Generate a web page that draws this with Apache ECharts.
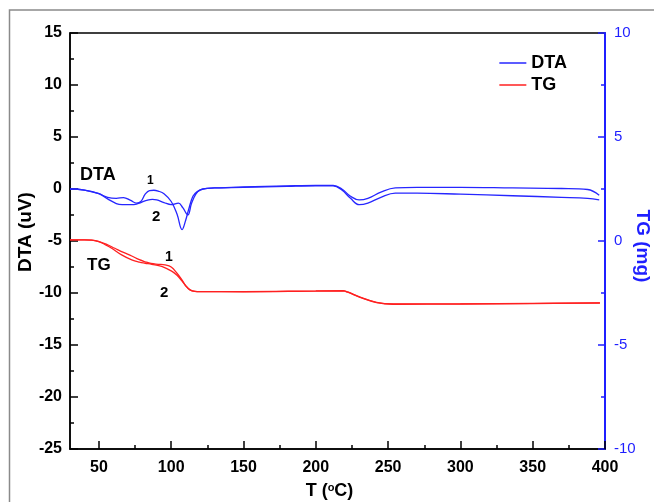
<!DOCTYPE html>
<html>
<head>
<meta charset="utf-8">
<script src="https://cdn.jsdelivr.net/npm/echarts@6/dist/echarts.min.js"></script>
<style>
  html, body { margin: 0; padding: 0; background: #fff; }
  #chart { width: 654px; height: 502px; }
</style>
</head>
<body>
<div id="chart"></div>
<script>
// x ticks
var xMajor = [50, 100, 150, 200, 250, 300, 350, 400];
var xMinor = [75, 125, 175, 225, 275, 325, 375];

// DTA (uV), [T, value]
var dta1 = [[30,0],[40,-0.1],[50,-0.45],[56,-0.8],[62,-0.9],[67,-0.82],[72,-1.1],[76,-1.35],[79,-1.2],[82,-0.5],[85,-0.15],[88,-0.12],[91,-0.2],[95,-0.45],[100,-1.2],[104,-2.4],[107.5,-3.9],[110,-3.0],[112,-2.0],[115,-0.7],[118,-0.25],[122,0.0],[130,0.1],[150,0.2],[180,0.3],[200,0.35],[212,0.35],[218,0.0],[224,-0.7],[230,-1.05],[236,-0.9],[245,-0.3],[255,0.1],[270,0.15],[300,0.15],[336,0.1],[370,0.05],[388,-0.05],[396,-0.6]];
var dta2 = [[30,0],[40,-0.1],[50,-0.45],[56,-0.95],[62,-1.4],[66,-1.5],[72,-1.5],[76,-1.45],[79,-1.3],[83,-1.1],[87,-1.0],[90,-1.05],[95,-1.3],[100,-1.5],[105,-1.35],[108,-1.8],[111.5,-2.5],[114,-1.4],[117,-0.5],[120,-0.1],[125,0.05],[130,0.1],[150,0.15],[180,0.25],[200,0.3],[212,0.3],[218,-0.1],[224,-0.9],[230,-1.5],[236,-1.35],[245,-0.8],[255,-0.4],[270,-0.4],[300,-0.5],[336,-0.65],[370,-0.8],[388,-0.9],[396,-1.05]];

// TG (mg), [T, value]
var tg1 = [[30,0.05],[40,0.05],[45,0.04],[50,-0.03],[55,-0.15],[61,-0.35],[67,-0.55],[72.7,-0.72],[78,-0.9],[82,-1.0],[86,-1.08],[91,-1.12],[95.7,-1.15],[100,-1.25],[104,-1.55],[107.2,-1.85],[110,-2.15],[113,-2.35],[116.4,-2.42],[120,-2.43],[150,-2.43],[200,-2.4],[218.8,-2.39],[222,-2.45],[230.6,-2.7],[242,-2.95],[253.6,-3.03],[300,-3.02],[350,-3.0],[396.5,-2.97]];
var tg2 = [[30,0.05],[40,0.05],[45,0.04],[50,-0.03],[55,-0.2],[58.8,-0.35],[65.7,-0.67],[72.7,-0.91],[78,-1.02],[82,-1.07],[86.5,-1.12],[93.4,-1.22],[100.3,-1.45],[104,-1.65],[107.2,-1.9],[110,-2.15],[113,-2.35],[116.4,-2.42],[120,-2.43],[150,-2.44],[200,-2.41],[218.8,-2.4],[222,-2.46],[230.6,-2.71],[242,-2.96],[253.6,-3.04],[300,-3.03],[350,-3.01],[396.5,-2.98]];

var FONT = 'Arial, "Liberation Sans", sans-serif';
var BLUE = '#2626ff';
var RED = '#ff2020';
var AXIS_BLUE = '#1f1fff';

var chart = echarts.init(document.getElementById('chart'));

var option = {
    animation: false,
    textStyle: { fontFamily: FONT },
    grid: { left: 70, top: 33, right: 49, bottom: 53, show: true, borderColor: '#000', borderWidth: 1.5, containLabel: false, outerBoundsMode: 'none' },
    legend: {
        top: 49, right: 82, orient: 'vertical', itemWidth: 27, itemHeight: 1.5, itemGap: 4,
        icon: 'rect',
        textStyle: { fontFamily: FONT, fontSize: 18, fontWeight: 'bold', color: '#000' },
        data: ['DTA', 'TG']
    },
    xAxis: [{
        type: 'value', min: 30, max: 400, position: 'bottom',
        name: '{a|T (}{s|o}{a|C)}', nameLocation: 'middle', nameGap: 33, nameMoveOverlap: false,
        nameTextStyle: { padding: [0, 16, 0, 0], rich: {
            a: { fontFamily: FONT, fontSize: 18, fontWeight: 'bold', color: '#000' },
            s: { fontFamily: FONT, fontSize: 11, fontWeight: 'bold', color: '#000', verticalAlign: 'top', padding: [0, 0, 8, 0] }
        } },
        splitLine: { show: false },
        axisLine: { onZero: false, lineStyle: { color: '#000', width: 1.5 } },
        axisTick: { inside: true, length: 8, customValues: xMajor, lineStyle: { color: '#000', width: 1.5 } },
        axisLabel: { customValues: xMajor, margin: 11, fontSize: 16, fontWeight: 'bold', color: '#000', fontFamily: FONT }
    }, {
        type: 'value', min: 30, max: 400, position: 'bottom',
        splitLine: { show: false },
        axisLine: { show: false, onZero: false },
        axisTick: { inside: true, length: 4, customValues: xMinor, lineStyle: { color: '#000', width: 1.5 } },
        axisLabel: { show: false }
    }],
    yAxis: [{
        type: 'value', min: -25, max: 15, interval: 5, position: 'left',
        name: 'DTA (uV)', nameLocation: 'middle', nameGap: 35, nameMoveOverlap: false,
        nameTextStyle: { fontSize: 19, fontWeight: 'bold', color: '#000', fontFamily: FONT, padding: [0, 0, 0, 18] },
        splitLine: { show: false },
        axisLine: { show: true, onZero: false, lineStyle: { color: '#000', width: 1.5 } },
        axisTick: { show: true, inside: true, length: 8, lineStyle: { color: '#000', width: 1.5 } },
        minorTick: { show: true, splitNumber: 2, length: 4, lineStyle: { color: '#000', width: 1.5 } },
        axisLabel: { margin: 8, fontSize: 16, fontWeight: 'bold', color: '#000', fontFamily: FONT }
    }, {
        type: 'value', min: -10, max: 10, interval: 5, position: 'right',
        name: 'TG (mg)', nameLocation: 'middle', nameGap: 28, nameRotate: -90, nameMoveOverlap: false,
        nameTextStyle: { fontSize: 19, fontWeight: 'bold', color: AXIS_BLUE, fontFamily: FONT, padding: [0, 0, 0, 10] },
        splitLine: { show: false },
        axisLine: { show: true, onZero: false, lineStyle: { color: AXIS_BLUE, width: 2 } },
        axisTick: { show: true, inside: true, length: 7, lineStyle: { color: AXIS_BLUE, width: 1.5 } },
        minorTick: { show: true, splitNumber: 2, length: 4, lineStyle: { color: AXIS_BLUE, width: 1.5 } },
        axisLabel: { margin: 9, fontSize: 15, color: AXIS_BLUE, fontFamily: FONT }
    }],
    series: [
        { name: 'DTA', type: 'line', xAxisIndex: 0, yAxisIndex: 0, data: dta1, symbol: 'none', smooth: 0.4, lineStyle: { color: BLUE, width: 1.3 }, itemStyle: { color: BLUE } },
        { name: 'DTA', type: 'line', xAxisIndex: 0, yAxisIndex: 0, data: dta2, symbol: 'none', smooth: 0.4, lineStyle: { color: BLUE, width: 1.3 }, itemStyle: { color: BLUE } },
        { name: 'TG', type: 'line', xAxisIndex: 0, yAxisIndex: 1, data: tg1, symbol: 'none', smooth: 0.4, lineStyle: { color: RED, width: 1.3 }, itemStyle: { color: RED } },
        { name: 'TG', type: 'line', xAxisIndex: 0, yAxisIndex: 1, data: tg2, symbol: 'none', smooth: 0.4, lineStyle: { color: RED, width: 1.3 }, itemStyle: { color: RED } }
    ],
    graphic: [
        { type: 'rect', silent: true, shape: { x: 9.5, y: 10, width: 700, height: 600 }, style: { fill: 'none', stroke: '#8a8a8a', lineWidth: 1.5 } },
        { type: 'text', x: 80, y: 166, style: { text: 'DTA', fontFamily: FONT, fontSize: 18, fontWeight: 'bold', fill: '#000' } },
        { type: 'text', x: 147, y: 175, style: { text: '1', fontFamily: FONT, fontSize: 12, fontWeight: 'bold', fill: '#000' } },
        { type: 'text', x: 152, y: 209, style: { text: '2', fontFamily: FONT, fontSize: 15, fontWeight: 'bold', fill: '#000' } },
        { type: 'text', x: 87, y: 257, style: { text: 'TG', fontFamily: FONT, fontSize: 17, fontWeight: 'bold', fill: '#000' } },
        { type: 'text', x: 165, y: 250, style: { text: '1', fontFamily: FONT, fontSize: 14, fontWeight: 'bold', fill: '#000' } },
        { type: 'text', x: 160, y: 285, style: { text: '2', fontFamily: FONT, fontSize: 15, fontWeight: 'bold', fill: '#000' } }
    ]
};

chart.setOption(option);
</script>
</body>
</html>
